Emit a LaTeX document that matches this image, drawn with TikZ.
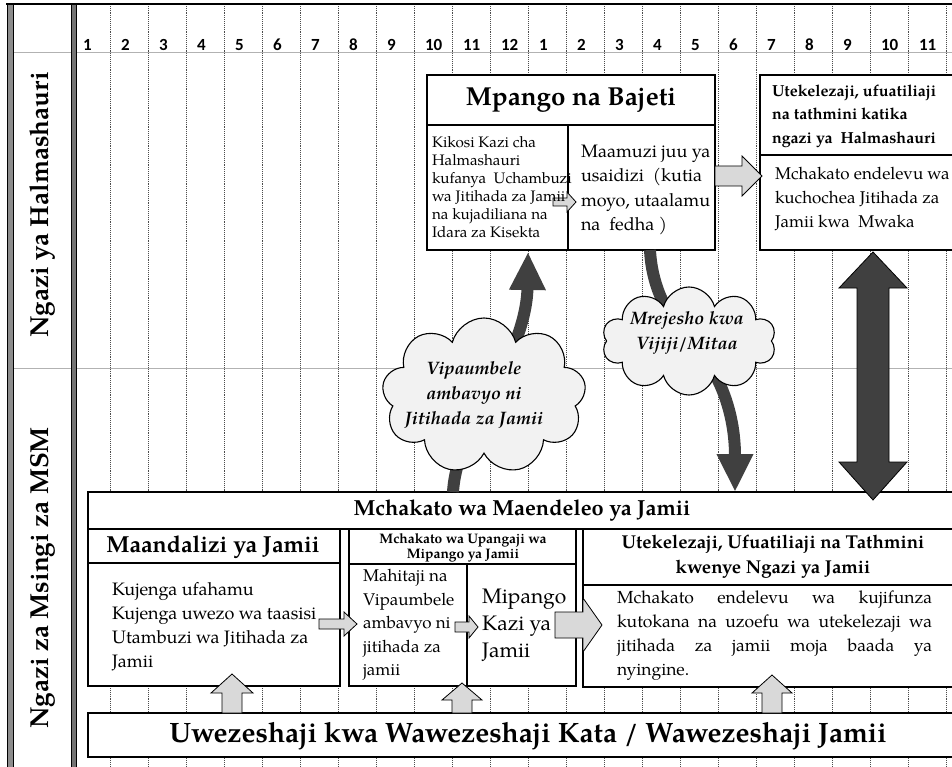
\documentclass[tikz,border=0pt]{standalone}
\usepackage{fontspec}
\setmainfont{texgyrepagella}[Extension=.otf, UprightFont=*-regular, BoldFont=*-bold, ItalicFont=*-italic, BoldItalicFont=*-bolditalic]
\newfontfamily\numfont{Carlito}
\usetikzlibrary{shapes.symbols,arrows.meta,calc}
\definecolor{darkfill}{HTML}{404040}
\definecolor{lightfill}{HTML}{D9D9D9}
\definecolor{cloudfill}{HTML}{F2F2F2}
\newcommand\fs[2]{\fontsize{#1}{#2}\selectfont}
\newcommand\harrow[6]{\draw[blockarrow] (#1,#3-#4) -- (#2-#6,#3-#4) -- (#2-#6,#3-#5) -- (#2,#3) -- (#2-#6,#3+#5) -- (#2-#6,#3+#4) -- (#1,#3+#4) -- cycle;}
\newcommand\varrow[6]{\draw[blockarrow] (#1-#4,#3) -- (#1-#4,#2+#6) -- (#1-#5,#2+#6) -- (#1,#2) -- (#1+#5,#2+#6) -- (#1+#4,#2+#6) -- (#1+#4,#3) -- cycle;}
\begin{document}
\begin{tikzpicture}[x=1pt,y=-1pt,
  box/.style={draw=black, line width=1.1pt, fill=white, anchor=north west, inner sep=0pt, outer sep=0pt},
  txt/.style={inner sep=0pt, outer sep=0pt},
  gridline/.style={densely dotted, draw=black!70, line width=0.9pt},
  sepline/.style={draw=black!30, line width=1pt},
  darkarrow/.style={draw=darkfill, line width=12pt, -{Triangle[width=34pt,length=38pt]}},
  blockarrow/.style={draw=black, line width=0.8pt, fill=lightfill, line join=miter},
  cloudbox/.style={cloud, cloud puffs=9, cloud ignores aspect, draw=black, line width=1.1pt, fill=cloudfill, inner sep=0pt},
  cloudtxt/.style={inner sep=0pt, align=center, font=\bfseries\itshape\fs{18}{25}}
]
\useasboundingbox (0,0) rectangle (952,767);
\fill[white] (0,0) rectangle (952,767);
% grid
\foreach \i in {0,...,22} \draw[gridline] ({110+38*\i},4) -- ({110+38*\i},767);
\draw[sepline] (13,53) -- (952,53);
\draw[sepline] (13,368) -- (952,368);
% frame
\fill[black!45] (7,4) rectangle (13,767);
\draw[line width=0.7pt] (7,4) -- (7,767) (13,4) -- (13,767);
\fill[black!55] (71,4) rectangle (76,767);
\draw[line width=0.7pt] (71,4) -- (71,767) (76,4) -- (76,767);
\draw[line width=1.6pt] (6,4) -- (952,4);
% column numbers
\node[txt, anchor=base west, font=\numfont\bfseries\fs{17}{17}] (n1) at (83,51) {1};
\foreach [count=\k] \lab in {2,3,4,5,6,7,8,9,10,11,12,1,2,3,4,5,6,7,8,9,10,11}
  \node[txt, anchor=base west, font=\numfont\bfseries\fs{17}{17}] (n\k) at ({121+38*(\k-1)},51) {\lab};
% level labels
\node[txt, rotate=90, font=\bfseries\fs{26}{30}] (lvlA) at (43,205) {Ngazi ya Halmashauri};
\node[txt, rotate=90, font=\bfseries\fs{26}{30}] (lvlB) at (43,578) {Ngazi za Msingi za MSM};
% top boxes
\node[box, minimum width=288pt, minimum height=50pt] (mpT) at (427,75) {};
\node[box, minimum width=141pt, minimum height=125pt] (mpL) at (427,125) {};
\node[box, minimum width=147pt, minimum height=125pt] (mpR) at (568,125) {};
\node[box, minimum width=200pt, minimum height=80pt] (utT) at (760,75) {};
\node[box, minimum width=200pt, minimum height=95pt] (utB) at (760,155) {};
% bottom boxes
\node[box, minimum width=872pt, minimum height=37pt] (mch) at (88,492) {};
\node[box, minimum width=252pt, minimum height=34pt] (aT) at (88,529) {};
\node[box, minimum width=252pt, minimum height=123pt] (aB) at (88,563) {};
\node[box, minimum width=227pt, minimum height=35pt] (bT) at (349,529) {};
\node[box, minimum width=118pt, minimum height=122pt] (bL) at (349,564) {};
\node[box, minimum width=109pt, minimum height=122pt] (bR) at (467,564) {};
\node[box, minimum width=377pt, minimum height=56pt] (cT) at (583,529) {};
\node[box, minimum width=377pt, minimum height=102pt] (cB) at (583,585) {};
\node[box, minimum width=872pt, minimum height=44pt] (bar) at (88,713) {};
% dark curved arrows
\coordinate (a1s) at ($(mch.north west)+(365,0)$);
\coordinate (a1e) at ($(mpL.south east)+(-40,2)$);
\draw[darkarrow] (a1s) .. controls (455,460) and (470,430) .. (490,395) .. controls (510,360) and (527,320) .. (a1e);
\coordinate (a2s) at ($(mpR.south west)+(82,0)$);
\coordinate (a2e) at ($(mch.north west)+(647,0)$);
\draw[darkarrow] (a2s) .. controls (652,290) and (670,320) .. (690,340) .. controls (710,360) and (735,400) .. (a2e);
% clouds
\node[cloudbox, minimum width=204pt, minimum height=156pt] (cl1) at (484,396) {};
\node[cloudtxt] (cl1t) at (474,395) {Vipaumbele\\ambavyo ni\\Jitihada za Jamii};
\node[cloudbox, cloud puffs=10, minimum width=174pt, minimum height=108pt] (cl2) at (689,341) {};
\node[cloudtxt] (cl2t) at (687,333) {Mrejesho kwa\\Vijiji/Mitaa};
% double arrow
\draw[line width=0.8pt, fill=darkfill] (873,252) -- (907,288) -- (889,288) -- (889,462) -- (907,462) -- (873,500) -- (839,462) -- (857,462) -- (857,288) -- (839,288) -- cycle;
% block arrows
\harrow{553}{576}{202}{4}{10}{9}
\harrow{715}{762}{176}{10}{20}{20}
\harrow{319}{357}{624}{5}{12}{13}
\harrow{455}{478}{627}{5}{11}{9}
\harrow{555}{602}{625}{13}{27}{19}
\varrow{232}{674}{713}{10}{21}{19}
\varrow{462}{683}{713}{10}{20}{17}
\varrow{772}{675}{713}{10}{20}{18}
% texts
\node[txt, font=\bfseries\fs{26}{30}] (mpTt) at (571,100) {Mpango na Bajeti};
\node[txt, anchor=west, align=left, font=\fs{15.2}{18}] (mpLt) at (432,187.5) {Kikosi Kazi cha\\Halmashauri\\kufanya\ \ Uchambuzi\\wa Jitihada za Jamii\\na kujadiliana na\\Idara za Kisekta};
\node[txt, anchor=west, align=left, font=\fs{18}{24.5}] (mpRt) at (581,190) {Maamuzi juu ya\\usaidizi\ \ (kutia\\moyo, utaalamu\\na\ \ fedha )};
\node[txt, anchor=west, align=left, font=\bfseries\fs{16}{23.5}] (utTt) at (772,116) {Utekelezaji, ufuatiliaji\\na tathmini katika\\ngazi ya\ \ Halmashauri};
\node[txt, anchor=west, align=left, font=\fs{17}{24}] (utBt) at (775,199) {Mchakato endelevu wa\\kuchochea Jitihada za\\Jamii kwa\ \ Mwaka};
\node[txt, font=\bfseries\fs{21.8}{25}] (mcht) at (522,511) {Mchakato wa Maendeleo ya Jamii};
\node[txt, font=\bfseries\fs{23.2}{26}] (aTt) at (213,547) {Maandalizi ya Jamii};
\node[txt, anchor=west, align=left, font=\fs{18}{24}] (aBt) at (112,627) {Kujenga ufahamu\\Kujenga uwezo wa taasisi\\Utambuzi wa Jitihada za\\Jamii};
\node[txt, align=center, font=\bfseries\fs{13.8}{14.5}] (bTt) at (463,548) {Mchakato wa Upangaji wa\\Mipango ya Jamii};
\node[txt, anchor=west, align=left, font=\fs{17}{23.5}] (bLt) at (363,625) {Mahitaji na\\Vipaumbele\\ambavyo ni\\jitihada za\\jamii};
\node[txt, anchor=west, align=left, font=\fs{21}{27}] (bRt) at (482,625) {Mipango\\Kazi ya\\Jamii};
\node[txt, align=center, font=\bfseries\fs{18.6}{25}] (cTt) at (773,557) {Utekelezaji, Ufuatiliaji na Tathmini\\kwenye Ngazi ya Jamii};
\node[txt, anchor=west, text width=315pt, align=justify, font=\fs{17.5}{24}] (cBt) at (617,636) {Mchakato endelevu wa kujifunza\linebreak kutokana na uzoefu wa utekelezaji wa\linebreak jitihada za jamii moja baada ya\linebreak nyingine.};
\node[txt, font=\bfseries\fs{28}{32}] (bart) at (528,736) {Uwezeshaji kwa Wawezeshaji Kata / Wawezeshaji Jamii};
\end{tikzpicture}
\end{document}
